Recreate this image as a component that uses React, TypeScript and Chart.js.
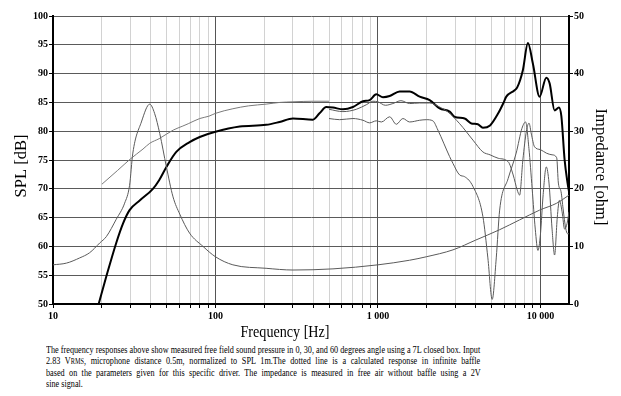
import React, { useEffect, useLayoutEffect, useRef } from 'react';
import { Chart, registerables } from 'chart.js';

Chart.register(...registerables);

const W = 621;
const CANVAS_H = 342;
const AREA_LEFT = 53;
const AREA_RIGHT = 569;
const AREA_TOP = 16;
const AREA_BOTTOM = 304;

// ---- Data ----
const xTickValues = [10, 20, 30, 40, 50, 60, 70, 80, 90, 100, 200, 300, 400, 500, 600, 700, 800, 900, 1000, 2000, 3000, 4000, 5000, 6000, 7000, 8000, 9000, 10000];
const splTicks = [50, 55, 60, 65, 70, 75, 80, 85, 90, 95, 100];
const ohmTicks = [0, 10, 20, 30, 40, 50];

const onAxisFreq = [19.1, 21.3, 24.5, 27, 29.6, 34.3, 41.2, 45, 49.9, 57.4, 69.3, 80, 100, 141, 205, 248, 300, 398, 437, 481, 529, 609, 702, 809, 889, 977, 1074, 1181, 1361, 1567, 1807, 2082, 2398, 2766, 2967, 3418, 3759, 4125, 4426, 4900, 5500, 5900, 6168, 6937, 7200, 7800, 8380, 8994, 9886, 10870, 11400, 12230, 13000, 13460, 14100, 14700, 15000];
const onAxisDb = [50, 54.8, 60.6, 64, 66.3, 68, 70, 71.5, 73.8, 76.4, 78.1, 79.0, 79.9, 80.8, 81.1, 81.6, 82.2, 82.0, 83.1, 84.2, 84.1, 83.8, 84.2, 85.2, 85.4, 86.4, 85.9, 86.1, 86.9, 86.9, 86.0, 85.4, 83.95, 83.4, 82.5, 82.2, 81.35, 81.2, 80.6, 81.0, 83.1, 84.8, 86.0, 87.1, 87.6, 90.6, 95.3, 91.7, 86.0, 89.3, 88.3, 83.6, 84.1, 82.6, 75, 71, 69.5];

const deg30Freq = [500, 609, 736, 849, 931, 1000, 1111, 1236, 1386, 1567, 1807, 2082, 2398, 2680, 3186, 3846, 4426, 4900, 5500, 6334, 6800, 7200, 7446, 7800, 8200, 8510, 8800, 9200, 10000, 10870, 11800, 12600, 12900, 13400, 13800, 14300, 14700, 15000];
const deg30Db = [83.8, 83.4, 83.8, 84.6, 85.2, 85.1, 84.5, 84.8, 85.3, 84.8, 84.9, 84.9, 84.2, 83.4, 81.3, 78.45, 76.4, 75.9, 75.3, 74.7, 72.4, 69.8, 68.9, 75, 80, 81.4, 79.5, 77.3, 76.8, 76.2, 75.9, 75.4, 71, 69.5, 66.5, 63.2, 62.2, 62.2];

const deg60Freq = [500, 581, 702, 809, 889, 977, 1050, 1181, 1298, 1424, 1567, 1807, 1985, 2178, 2339, 2761, 2897, 3186, 3418, 3846, 4426, 4750, 5050, 5350, 5613, 6334, 7095, 7700, 8110, 8500, 8900, 9300, 9660, 10000, 10400, 10870, 11300, 11800, 12230, 12700, 13100, 13600, 14100, 14600, 15000];
const deg60Db = [82.2, 82.0, 82.2, 81.9, 81.45, 81.8, 81.6, 82.5, 81.2, 82.2, 81.6, 81.9, 82.0, 81.8, 80.2, 75.6, 74.4, 72.4, 72.1, 70.4, 65.2, 58, 50.8, 58, 66.3, 71.8, 76.2, 80.5, 81.6, 77, 70, 63, 59.3, 62, 69, 73.8, 71, 63, 58.5, 65, 68, 66, 63, 64, 66];

const baffleFreq = [20, 25, 30, 35.8, 39.4, 45, 55, 63, 68, 80, 91, 100, 128, 160, 205, 250, 300, 400, 500];
const baffleDb = [70.8, 73.2, 75.2, 76.9, 77.9, 78.7, 80.2, 80.9, 81.3, 82.2, 82.6, 83.1, 83.9, 84.4, 84.7, 85.0, 85.1, 85.2, 85.2];

const impFreq = [10, 12.1, 14.6, 16.8, 19.4, 21.3, 24.5, 27.6, 29.6, 31, 35, 39.4, 42.2, 45.4, 49.9, 54.8, 60.3, 69.3, 83.8, 100, 128, 205, 300, 529, 1000, 1567, 1985, 2897, 4000, 5613, 7446, 9886, 12600, 15000];
const impOhm = [6.8, 7.1, 8.0, 8.9, 10.6, 11.7, 14.7, 17.5, 20.6, 26.2, 31.6, 34.7, 33.1, 29.6, 23.8, 18.6, 15.6, 12.3, 10.0, 8.2, 6.8, 6.2, 5.9, 6.1, 6.8, 7.6, 8.2, 9.4, 11.1, 12.9, 14.6, 16.3, 17.5, 18.9];

const captionLines = [
  'The frequency responses above show measured free field sound pressure in 0, 30, and 60 degrees angle using a 7L closed box. Input',
  null,
  'based on the parameters given for this specific driver. The impedance is measured in free air without baffle using a 2V',
  'sine signal.',
];

const pts = (xs: number[], ys: number[]) => xs.map((x, i) => ({ x, y: ys[i] }));
const isDecade = (v: number) => {
  const l = Math.log10(v);
  return Math.abs(l - Math.round(l)) < 1e-9;
};
const fmt = (v: number) => String(v).replace(/\B(?=(\d{3})+(?!\d))/g, ' ');

const SERIF = '"Liberation Serif", "Times New Roman", serif';
const tickFont = { family: SERIF, size: 10, weight: 'bold' as const };

const titlesPlugin = {
  id: 'axisTitles',
  afterDraw(chart: any) {
    const ctx = chart.ctx as CanvasRenderingContext2D;
    ctx.save();
    ctx.fillStyle = '#000';
    ctx.textAlign = 'center';
    ctx.textBaseline = 'middle';
    ctx.font = `16.5px ${SERIF}`;
    ctx.save();
    ctx.translate(22, 166);
    ctx.rotate(-Math.PI / 2);
    ctx.fillText('SPL [dB]', 0, 0);
    ctx.restore();
    ctx.save();
    ctx.translate(600, 167);
    ctx.rotate(Math.PI / 2);
    ctx.fillText('Impedance [ohm]', 0, 0);
    ctx.restore();
    ctx.save();
    ctx.font = `16px ${SERIF}`;
    const w = ctx.measureText('Frequency [Hz]').width;
    const s = 89 / w;
    ctx.translate(285, 333);
    ctx.scale(s, 1);
    ctx.fillText('Frequency [Hz]', 0, 0);
    ctx.restore();
    ctx.restore();
  },
};

export default function App() {
  const canvasRef = useRef<HTMLCanvasElement>(null);
  const capRef = useRef<HTMLDivElement>(null);

  useEffect(() => {
    const canvas = canvasRef.current;
    if (!canvas) return;
    const thin = { borderWidth: 1, pointRadius: 0, fill: false, cubicInterpolationMode: 'monotone' as const };
    const chart = new Chart(canvas, {
      type: 'line',
      data: {
        datasets: [
          { ...thin, label: 'Impedance', data: pts(impFreq, impOhm), borderColor: '#5a5a5a', yAxisID: 'yR' },
          { ...thin, label: 'Infinite baffle', data: pts(baffleFreq, baffleDb), borderColor: '#7a7a7a', yAxisID: 'y' },
          { ...thin, label: '60°', data: pts(deg60Freq, deg60Db), borderColor: '#5a5a5a', yAxisID: 'y' },
          { ...thin, label: '30°', data: pts(deg30Freq, deg30Db), borderColor: '#5a5a5a', yAxisID: 'y' },
          { ...thin, label: '0°', data: pts(onAxisFreq, onAxisDb), borderColor: '#000', borderWidth: 2, yAxisID: 'y' },
        ],
      },
      options: {
        responsive: false,
        animation: false,
        devicePixelRatio: 1,
        layout: { padding: { top: AREA_TOP, left: 0, right: 0, bottom: 0 } },
        plugins: { legend: { display: false }, tooltip: { enabled: false }, title: { display: false } },
        scales: {
          x: {
            type: 'logarithmic',
            position: 'bottom',
            min: 10,
            max: 15000,
            afterBuildTicks: (scale: any) => {
              scale.ticks = xTickValues.map((v) => ({ value: v, major: isDecade(v) }));
            },
            afterFit: (scale: any) => {
              scale.height = CANVAS_H - AREA_BOTTOM;
            },
            grid: {
              color: (c: any) => (c.tick && isDecade(c.tick.value) ? '#555' : '#d2d2d2'),
              lineWidth: 1,
              tickLength: 4,
              tickColor: '#000',
            },
            border: { color: '#000', width: 2 },
            ticks: {
              autoSkip: false,
              maxRotation: 0,
              minRotation: 0,
              padding: 2,
              color: '#000',
              font: tickFont,
              callback: (value: any) => (isDecade(Number(value)) ? fmt(Number(value)) : ''),
            },
          },
          y: {
            type: 'linear',
            position: 'left',
            min: 50,
            max: 100,
            afterBuildTicks: (scale: any) => {
              scale.ticks = splTicks.map((v) => ({ value: v }));
            },
            afterFit: (scale: any) => {
              scale.width = AREA_LEFT;
            },
            grid: { color: '#5a5a5a', lineWidth: 1, tickLength: 4, tickColor: '#000' },
            border: { color: '#000', width: 2 },
            ticks: { padding: 1, color: '#000', font: tickFont },
          },
          yR: {
            type: 'linear',
            position: 'right',
            min: 0,
            max: 50,
            afterBuildTicks: (scale: any) => {
              scale.ticks = ohmTicks.map((v) => ({ value: v }));
            },
            afterFit: (scale: any) => {
              scale.width = W - AREA_RIGHT;
            },
            grid: { drawOnChartArea: false, tickLength: 4, tickColor: '#000', color: '#000' },
            border: { color: '#000', width: 2 },
            ticks: { padding: 1, color: '#000', font: tickFont },
          },
        },
      },
      plugins: [titlesPlugin],
    } as any);
    return () => chart.destroy();
  }, []);

  useLayoutEffect(() => {
    const el = capRef.current;
    if (!el) return;
    const lines = Array.from(el.querySelectorAll('[data-line]')) as HTMLElement[];
    const target = 434.5;
    const s = target / lines[0].offsetWidth;
    lines.forEach((ln, i) => {
      ln.style.transform = `scaleX(${s})`;
      if (i === 1 || i === 2) {
        const spaces = (ln.textContent || '').split(' ').length - 1;
        const extra = (target / s - ln.offsetWidth) / spaces;
        ln.style.wordSpacing = `${extra}px`;
      }
    });
  }, []);

  const lineStyle: React.CSSProperties = {
    display: 'inline-block',
    whiteSpace: 'nowrap',
    transformOrigin: '0 0',
  };

  return (
    <div style={{ position: 'absolute', left: 0, top: 0, width: W, height: 396, background: '#fff' }}>
      <canvas ref={canvasRef} width={W} height={CANVAS_H} style={{ display: 'block', width: W, height: CANVAS_H }} />
      <div
        ref={capRef}
        style={{ position: 'absolute', left: 45.7, top: 343.5, fontFamily: SERIF, fontSize: 10.5, lineHeight: '11.5px', color: '#000' }}
      >
        <div style={{ height: 11.5 }}><span data-line="1" style={lineStyle}>{captionLines[0]}</span></div>
        <div style={{ height: 11.5 }}>
          <span data-line="2" style={lineStyle}>
            2.83 V<span style={{ fontSize: 8 }}>RMS</span>, microphone distance 0.5m, normalized to SPL 1m.The dotted line is a calculated response in infinite baffle
          </span>
        </div>
        <div style={{ height: 11.5 }}><span data-line="3" style={lineStyle}>{captionLines[2]}</span></div>
        <div style={{ height: 11.5 }}><span data-line="4" style={lineStyle}>{captionLines[3]}</span></div>
      </div>
    </div>
  );
}
